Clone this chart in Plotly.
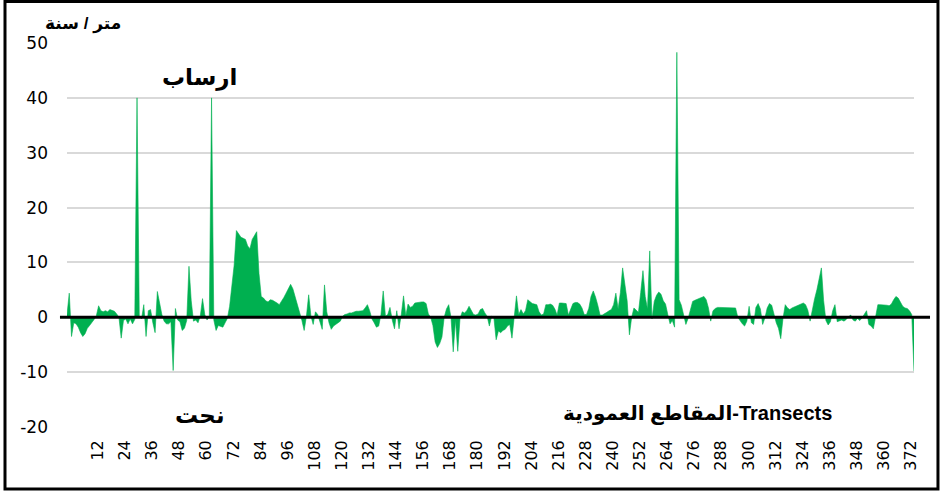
import plotly.graph_objects as go

# Transect numbers (categories)
transects = list(range(1, 377))

# Shoreline change rate (m/year) per transect
rates = [
    0.5, 4.4, -3.5, -1.0, -1.2, -1.8, -2.8, -3.5, -3.0, -2.0,      # 1-10
    -1.5, -1.0, -0.4, 0.3, 2.1, 1.2, 1.0, 1.2, 1.0, 1.4,           # 11-20
    1.3, 1.1, 0.6, 0.0, -3.8, -0.6, -0.3, -1.2, -0.3, -1.2,        # 21-30
    -0.4, 40.0, 0.2, -0.3, 2.3, -3.5, 1.2, 1.4, -1.0, -2.8,        # 31-40
    4.7, 2.5, 0.5, -0.7, -1.2, -1.2, -0.8, -9.7, 1.6, -0.5,        # 41-50
    -0.8, -2.4, -2.0, -0.6, 9.3, 3.0, -0.7, -0.5, -1.0, 0.2,       # 51-60
    3.4, 0.5, -0.5, 0.2, 40.0, -0.5, -2.4, -1.5, -1.6, -1.8,       # 61-70
    -1.0, -0.2, 2.0, 6.5, 9.5, 15.8, 15.2, 14.6, 14.4, 14.2,       # 71-80
    13.0, 12.5, 14.2, 14.8, 15.6, 8.0, 3.8, 3.5, 3.0, 2.8,         # 81-90
    3.2, 3.1, 2.9, 2.6, 2.3, 2.9, 3.6, 4.4, 5.3, 6.0,              # 91-100
    5.2, 3.8, 2.3, 0.7, -0.6, -2.4, 0.2, 4.1, 0.2, -1.3,           # 101-110
    1.0, 0.5, -0.7, -2.2, 5.9, 1.0, -1.0, -2.2, -1.6, -1.3,        # 111-120
    -1.0, -0.7, 0.2, 0.5, 0.6, 0.8, 0.8, 1.0, 1.1, 1.1,            # 121-130
    1.1, 1.2, 1.7, 2.3, 1.2, -0.3, -1.0, -1.8, -1.6, 0.5,          # 131-140
    4.8, 0.2, 0.5, 1.8, -0.5, -2.1, 1.2, -2.1, 0.5, 3.9,           # 141-150
    0.3, 2.4, 1.8, 2.0, 2.6, 2.7, 2.8, 2.8, 2.8, 2.5,              # 151-160
    0.6, 0.0, -1.5, -4.5, -5.5, -4.8, -3.6, 0.0, 1.5, 2.3,         # 161-170
    0.0, -6.3, -0.5, -6.2, -0.2, 1.0, 0.8, 1.2, 2.0, 1.3,          # 171-180
    0.5, 0.4, 0.6, 1.4, 1.6, 0.8, 0.2, -1.6, 0.2, -0.1,            # 181-190
    -4.1, -2.5, -2.8, -2.4, -2.2, -1.6, -1.3, -3.8, 0.0, 3.9,      # 191-200
    0.5, 1.4, 0.6, 1.2, 3.2, 2.8, 2.5, 2.4, 2.3, 1.0,              # 201-210
    0.4, 0.6, 2.3, 2.3, 2.4, 2.2, 1.5, 0.4, 2.6, 2.6,              # 211-220
    2.6, 2.5, 0.4, 1.4, 2.5, 2.7, 2.7, 2.4, 1.7, 0.5,              # 221-230
    0.5, 1.6, 3.8, 4.8, 3.7, 2.2, 0.4, 0.4, 0.6, 0.9,              # 231-240
    1.2, 1.4, 2.3, 4.4, 1.5, 4.5, 9.0, 5.5, 3.0, -3.2,             # 241-250
    0.0, 1.7, 1.2, 0.9, 4.5, 8.5, 3.8, 1.5, 12.1, -0.3,            # 251-260
    2.9, 4.0, 4.6, 4.2, 3.0, 2.4, 0.5, -1.2, -0.6, -1.8,           # 261-270
    48.3, 3.2, 2.2, 0.5, -1.3, -0.2, 1.2, 2.9, 3.1, 3.3,           # 271-280
    3.4, 3.6, 3.8, 3.2, 1.7, -0.7, 1.2, 1.6, 1.8, 1.8,             # 281-290
    1.8, 1.7, 1.8, 1.8, 1.8, 1.7, 1.7, 0.0, -0.7, -1.2,            # 291-300
    -1.6, -0.7, 2.0, -1.0, -1.3, 1.8, 2.5, 1.5, -1.3, -0.1,        # 301-310
    1.7, 2.5, 2.2, 0.6, -1.0, -2.0, -3.9, -0.2, 2.3, 1.7,          # 311-320
    1.4, 1.7, 1.9, 2.0, 2.2, 2.4, 2.6, 2.3, 1.3, -0.7,             # 321-330
    1.5, 3.4, 5.0, 7.0, 9.0, 3.0, -0.6, -1.4, -0.8, 1.2,           # 331-340
    2.3, -0.8, -0.7, -0.5, -0.7, -0.4, 0.1, 0.4, -0.5, -0.7,       # 341-350
    -0.2, -0.6, -0.1, 0.7, 1.2, -1.3, -1.6, -2.1, -0.2, 2.3,       # 351-360
    2.3, 2.3, 2.2, 2.2, 2.1, 2.4, 3.2, 3.8, 3.5, 2.8,              # 361-370
    2.0, 1.7, 1.6, 1.2, 0.5, -9.8,                                 # 371-376
]

x_tick_values = list(range(12, 373, 12))
x_tick_labels = [str(v) for v in x_tick_values]
y_tick_values = [-20, -10, 0, 10, 20, 30, 40, 50]
y_tick_labels = ["-20", "-10", "0", "10", "20", "30", "40", "50"]

label_unit = "متر / سنة"
label_accretion = "ارساب"
label_erosion = "نحت"
label_axis = "المقاطع العمودية-Transects"

GREEN = "#00B050"
AR_FONT = "Liberation Sans, DejaVu Sans, sans-serif"

fig = go.Figure()
fig.add_trace(go.Scatter(
    x=transects, y=rates, mode="lines", fill="tozeroy",
    line=dict(color=GREEN, width=0.6), fillcolor=GREEN,
    hoverinfo="x+y", showlegend=False,
))


def note(text, x, y, size):
    return dict(text="<b>" + text + "</b>", xref="paper", yref="paper",
                x=x, y=y, xanchor="center", yanchor="middle",
                showarrow=False, font=dict(family=AR_FONT, size=size))


fig.update_layout(
    width=942, height=493,
    margin=dict(l=67, r=28, t=43, b=66),
    paper_bgcolor="white", plot_bgcolor="white",
    font=dict(family="DejaVu Sans", size=17, color="#000000"),
    xaxis=dict(
        range=[1, 376], tickmode="array", tickvals=x_tick_values,
        ticktext=x_tick_labels, tickangle=-90, showgrid=False,
        zeroline=False, showline=False, ticks="",
        ticklabelstandoff=9, ticklabelshift=6,
        tickfont=dict(family="DejaVu Sans", size=16),
    ),
    yaxis=dict(
        range=[-20, 50], tickmode="array", tickvals=y_tick_values,
        ticktext=y_tick_labels,
        showgrid=True, gridcolor="#d9d9d9", gridwidth=1.5,
        zeroline=False, showline=False, ticks="",
        ticklabelstandoff=18,
        tickfont=dict(family="DejaVu Sans", size=17),
    ),
    shapes=[
        dict(type="line", xref="paper", yref="y", x0=-0.0083, x1=1.0189,
             y0=0, y1=0, line=dict(color="black", width=3), layer="above"),
        dict(type="rect", xref="paper", yref="paper", x0=-0.0732, x1=1.0283,
             y0=-0.1615, y1=1.108, line=dict(color="black", width=3),
             layer="above"),
    ],
    annotations=[
        note(label_unit, 0.0189, 1.0495, 17),
        note(label_accretion, 0.157, 0.909, 23),
        note(label_erosion, 0.157, 0.031, 23),
        note(label_axis, 0.744, 0.034, 20),
    ],
)

fig.write_html("out.html", config={"displayModeBar": False},
               post_script="document.body.style.margin='0';")
